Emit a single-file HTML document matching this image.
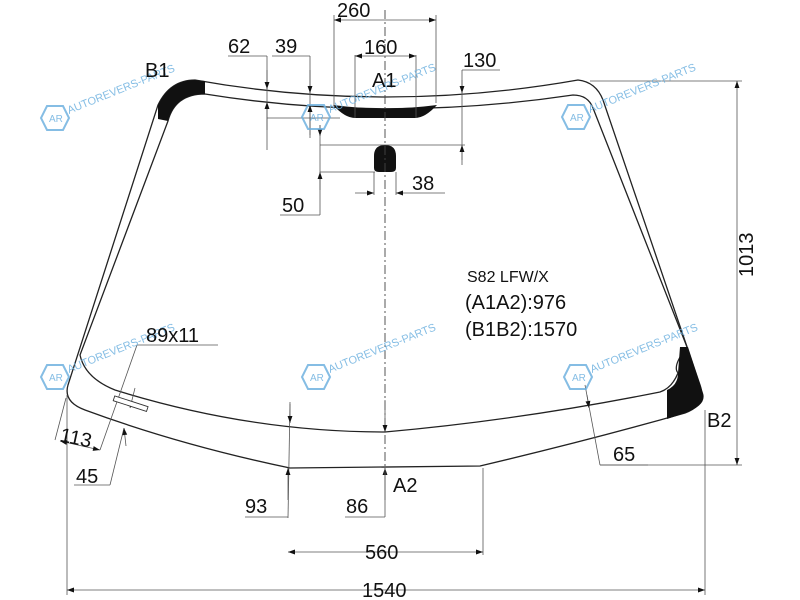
<!DOCTYPE html>
<html><head><meta charset="utf-8"><style>
html,body{margin:0;padding:0;background:#fff;}
svg{display:block;font-family:"Liberation Sans",sans-serif;}
</style></head><body>
<svg width="800" height="600" viewBox="0 0 800 600" xmlns="http://www.w3.org/2000/svg">
<defs>
<marker id="a" viewBox="0 0 10 10" refX="10" refY="5" markerWidth="9" markerHeight="7" orient="auto-start-reverse" markerUnits="userSpaceOnUse"><path d="M0,1.5 L10,5 L0,8.5 Z" fill="#111"/></marker>
</defs>
<rect width="800" height="600" fill="#fff"/>
<path d="M158,105 Q170,80 195,80 Q385,114 578,80 Q596,82 603,100 L700,385 Q707,405 685,413 Q590,440 480,466 L290,468 Q180,445 85,410 Q63,402 68,385 Z" fill="none" stroke="#222" stroke-width="1.3"/>
<path d="M168,121 Q175,94 205,94 Q385,123 573,95 Q588,95 593,108 L687,347 Q672,366 678,373 Q672,388 660,392 Q520,420 385,432 Q250,432 115,390 Q85,378 80,355 Z" fill="none" stroke="#222" stroke-width="1.3"/>
<path d="M158,119 L168,121 Q175,94 205,94 L205,81 L195,80 Q170,80 158,105 Z" fill="#111"/>
<path d="M680,347 L688,347 L703,393 Q707,405 685,413 L667,419 L667,390 Q678,385 678,373 Z" fill="#111"/>
<path d="M333,105 Q345,118 355,118 L415,118 Q425,118 437,105 Q410,108.5 385,108.5 Q360,108.5 333,105 Z" fill="#111"/>
<path d="M374,168 L374,156 Q374,145 385,145 Q396,145 396,156 L396,168 Q396,172 391,172 L379,172 Q374,172 374,168 Z" fill="#111"/>
<line x1="385" y1="10" x2="385" y2="470" stroke="#444" stroke-width="0.9" stroke-dasharray="9,3,2,3"/>
<g stroke="#555" stroke-width="0.8" fill="none">
<line x1="334" y1="15" x2="334" y2="105"/><line x1="436" y1="15" x2="436" y2="103"/>
<line x1="334" y1="20" x2="436" y2="20" marker-start="url(#a)" marker-end="url(#a)"/>
<line x1="355" y1="55" x2="355" y2="118"/><line x1="416" y1="55" x2="416" y2="118"/>
<line x1="355" y1="56" x2="416" y2="56" marker-start="url(#a)" marker-end="url(#a)"/>
<line x1="228" y1="56" x2="267" y2="56"/><line x1="267" y1="56" x2="267" y2="150"/>
<line x1="267" y1="70" x2="267" y2="89" marker-end="url(#a)"/><line x1="267" y1="130" x2="267" y2="102" marker-end="url(#a)"/>
<line x1="267" y1="118" x2="340" y2="118"/>
<line x1="272" y1="56" x2="310" y2="56"/><line x1="310" y1="56" x2="310" y2="138"/>
<line x1="310" y1="70" x2="310" y2="93" marker-end="url(#a)"/><line x1="310" y1="135" x2="310" y2="105" marker-end="url(#a)"/>
<line x1="462" y1="70" x2="500" y2="70"/><line x1="462" y1="70" x2="462" y2="165"/>
<line x1="462" y1="80" x2="462" y2="93" marker-end="url(#a)"/><line x1="462" y1="160" x2="462" y2="145" marker-end="url(#a)"/>
<line x1="320" y1="145" x2="465" y2="145"/>
<line x1="320" y1="125" x2="320" y2="215"/>
<line x1="320" y1="125" x2="320" y2="136" marker-end="url(#a)"/><line x1="320" y1="190" x2="320" y2="172" marker-end="url(#a)"/>
<line x1="320" y1="172" x2="375" y2="172"/><line x1="280" y1="215" x2="320" y2="215"/>
<line x1="355" y1="193" x2="374" y2="193" marker-end="url(#a)"/><line x1="445" y1="193" x2="396" y2="193" marker-end="url(#a)"/>
<line x1="374" y1="172" x2="374" y2="195"/><line x1="396" y1="172" x2="396" y2="195"/>
<line x1="590" y1="81" x2="742" y2="81"/><line x1="600" y1="465" x2="742" y2="465"/>
<line x1="737" y1="81" x2="737" y2="465" marker-start="url(#a)" marker-end="url(#a)"/>
<line x1="585" y1="385" x2="600" y2="465"/>
<line x1="587" y1="395" x2="589" y2="408" marker-end="url(#a)"/>
<line x1="600" y1="465" x2="648" y2="465"/>
<line x1="290" y1="402" x2="288" y2="518"/>
<line x1="290" y1="404" x2="290" y2="423" marker-end="url(#a)"/><line x1="288" y1="500" x2="288" y2="468" marker-end="url(#a)"/>
<line x1="245" y1="517" x2="288" y2="517"/>
<line x1="385" y1="400" x2="385" y2="432" marker-end="url(#a)"/><line x1="385" y1="500" x2="385" y2="468" marker-end="url(#a)"/>
<line x1="345" y1="517" x2="385" y2="517"/><line x1="385" y1="468" x2="385" y2="517"/>
<line x1="483" y1="468" x2="483" y2="555"/>
<line x1="288" y1="552" x2="483" y2="552" marker-start="url(#a)" marker-end="url(#a)"/>
<line x1="67" y1="395" x2="67" y2="595"/><line x1="705" y1="410" x2="705" y2="595"/>
<line x1="67" y1="590" x2="705" y2="590" marker-start="url(#a)" marker-end="url(#a)"/>
<line x1="55" y1="440" x2="66" y2="398"/>
<line x1="60" y1="441" x2="100" y2="450" marker-start="url(#a)" marker-end="url(#a)"/>
<line x1="137" y1="345" x2="218" y2="345"/><line x1="137" y1="345" x2="100" y2="450"/>
<line x1="135" y1="388" x2="130" y2="408" marker-end="url(#a)"/>
<line x1="124" y1="428" x2="110" y2="485" /><line x1="126" y1="446" x2="124" y2="428" marker-end="url(#a)"/>
<line x1="74" y1="485" x2="110" y2="485"/>
</g>
<rect x="113" y="401" width="35" height="5" fill="#fff" stroke="#333" stroke-width="0.9" transform="rotate(18 130 404)"/>
<g fill="#6fb2e0" font-size="11" opacity="0.85">
<g transform="translate(55,118)"><polygon points="-8,-12 8,-12 14,0 8,12 -8,12 -14,0" fill="none" stroke="#6fb2e0" stroke-width="2"/><text x="-6" y="4" font-size="10">AR</text><text x="14" y="-4" transform="rotate(-22 14 -4)">AUTOREVERS-PARTS</text></g>
<g transform="translate(316,117)"><polygon points="-8,-12 8,-12 14,0 8,12 -8,12 -14,0" fill="none" stroke="#6fb2e0" stroke-width="2"/><text x="-6" y="4" font-size="10">AR</text><text x="14" y="-4" transform="rotate(-22 14 -4)">AUTOREVERS-PARTS</text></g>
<g transform="translate(576,117)"><polygon points="-8,-12 8,-12 14,0 8,12 -8,12 -14,0" fill="none" stroke="#6fb2e0" stroke-width="2"/><text x="-6" y="4" font-size="10">AR</text><text x="14" y="-4" transform="rotate(-22 14 -4)">AUTOREVERS-PARTS</text></g>
<g transform="translate(55,377)"><polygon points="-8,-12 8,-12 14,0 8,12 -8,12 -14,0" fill="none" stroke="#6fb2e0" stroke-width="2"/><text x="-6" y="4" font-size="10">AR</text><text x="14" y="-4" transform="rotate(-22 14 -4)">AUTOREVERS-PARTS</text></g>
<g transform="translate(316,377)"><polygon points="-8,-12 8,-12 14,0 8,12 -8,12 -14,0" fill="none" stroke="#6fb2e0" stroke-width="2"/><text x="-6" y="4" font-size="10">AR</text><text x="14" y="-4" transform="rotate(-22 14 -4)">AUTOREVERS-PARTS</text></g>
<g transform="translate(578,377)"><polygon points="-8,-12 8,-12 14,0 8,12 -8,12 -14,0" fill="none" stroke="#6fb2e0" stroke-width="2"/><text x="-6" y="4" font-size="10">AR</text><text x="14" y="-4" transform="rotate(-22 14 -4)">AUTOREVERS-PARTS</text></g>
</g>
<g fill="#111" font-size="20">
<text x="337" y="17">260</text>
<text x="364" y="54">160</text>
<text x="228" y="53">62</text>
<text x="275" y="53">39</text>
<text x="463" y="67">130</text>
<text x="372" y="87">A1</text>
<text x="145" y="77">B1</text>
<text x="282" y="212">50</text>
<text x="412" y="190">38</text>
<text x="146" y="342">89x11</text>
<text x="59" y="441" transform="rotate(12 59 441)">113</text>
<text x="76" y="483">45</text>
<text x="245" y="513">93</text>
<text x="346" y="513">86</text>
<text x="393" y="492">A2</text>
<text x="365" y="559">560</text>
<text x="362" y="597">1540</text>
<text x="613" y="461">65</text>
<text x="707" y="427">B2</text>
<text x="467" y="282" font-size="16">S82 LFW/X</text>
<text x="465" y="309">(A1A2):976</text>
<text x="465" y="336">(B1B2):1570</text>
<text x="753" y="277" transform="rotate(-90 753 277)">1013</text>
</g>
</svg>
</body></html>
